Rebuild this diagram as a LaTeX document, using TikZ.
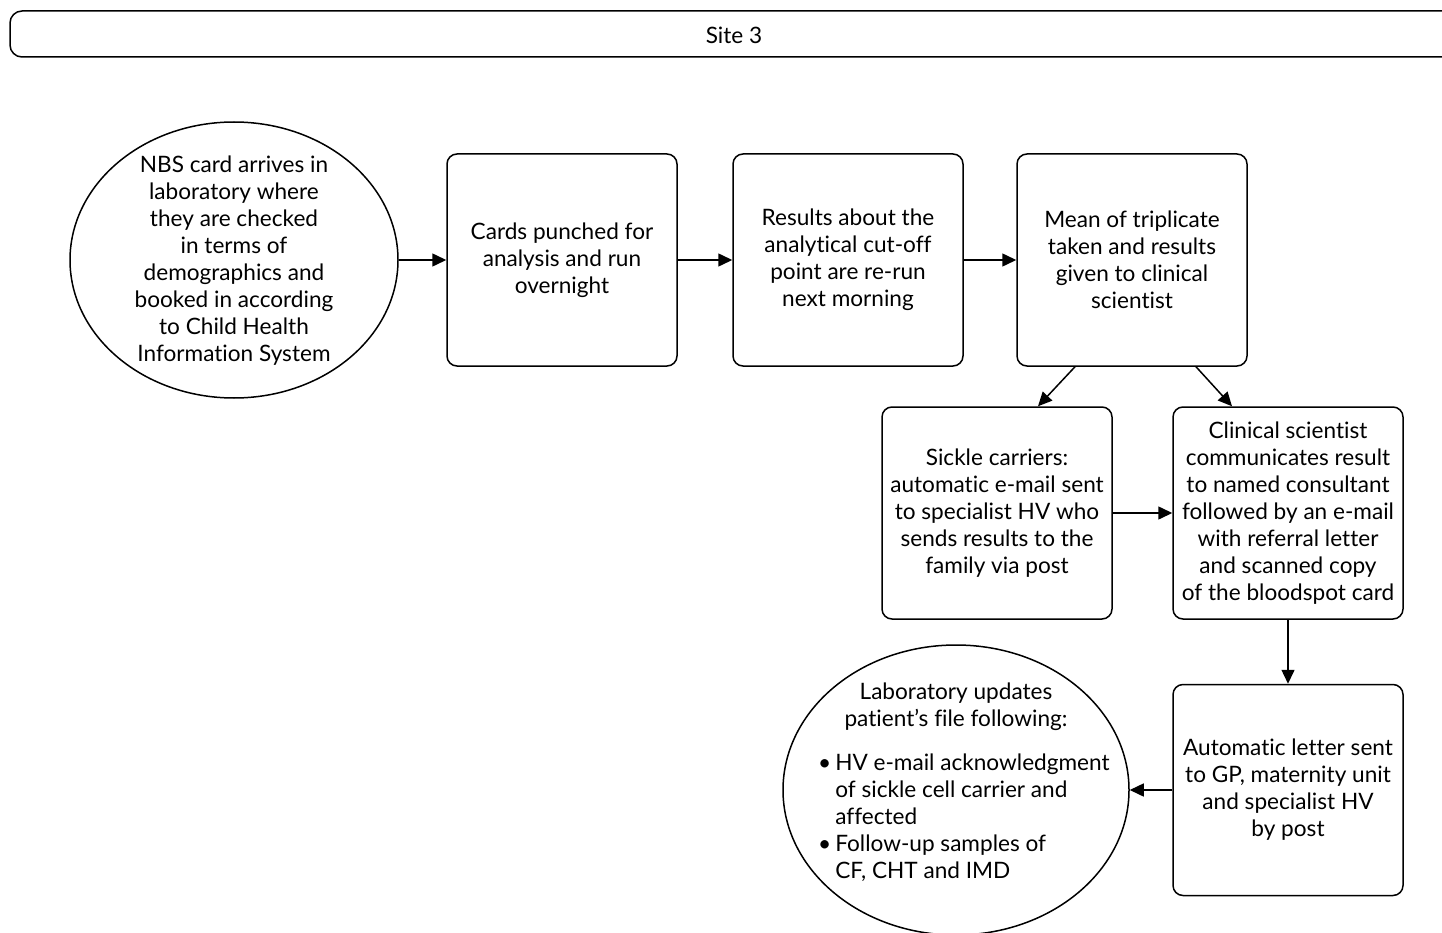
\documentclass[tikz,border=0pt]{standalone}
\usepackage{fontspec}
\setmainfont[Ligatures=NoCommon]{Lato}
\usetikzlibrary{shapes.geometric,arrows.meta}
\begin{document}
\begin{tikzpicture}[x=1pt,y=-1pt,
  every node/.style={font=\fontsize{22.6}{27}\selectfont},
  stepbox/.style={draw,line width=1.5pt,rounded corners=10pt,minimum width=230pt,minimum height=212pt,align=center,inner sep=0pt},
  oval/.style={draw,ellipse,line width=1.5pt,inner sep=0pt},
  flow/.style={line width=1.5pt,-{Triangle[length=14pt,width=13pt]}}
]
\useasboundingbox (0,0) rectangle (1442,933);

% site banner
\draw[line width=1.5pt,rounded corners=12pt] (10,11) rectangle (1480,57);
\node (site) at (734,35) {Site 3};

% first oval
\node[oval,minimum width=328pt,minimum height=276pt] (e1) at (234,260) {};
\node[align=center] (t1) at (234,261) {NBS card arrives in\\laboratory where\\they are checked\\in terms of\\demographics and\\booked in according\\to Child Health\\Information System};

% process boxes
\node[stepbox] (b2) at (562,260) {Cards punched for\\analysis and run\\overnight};
\node[stepbox] (b3) at (848,260) {Results about the\\analytical cut-off\\point are re-run\\next morning};
\node[stepbox] (b4) at (1132,260) {Mean of triplicate\\taken and results\\given to clinical\\scientist};
\node[stepbox] (b5) at (997,513) {Sickle carriers:\\automatic e-mail sent\\to specialist HV who\\sends results to the\\family via post};
\node[stepbox] (b6) at (1288,513) {Clinical scientist\\communicates result\\to named consultant\\followed by an e-mail\\with referral letter\\and scanned copy\\of the bloodspot card};
\node[stepbox,minimum height=211pt] (b7) at (1288,790) {Automatic letter sent\\to GP, maternity unit\\and specialist HV\\by post};

% final oval
\node[oval,minimum width=346pt,minimum height=290pt] (e2) at (956,790) {};
\node[align=center,inner sep=0pt] (t2h) at (956,707) {Laboratory updates\\patient’s file following:};
\node[anchor=west,inner sep=0pt] (t2l) at (818,819) {\begin{tabular}{@{}l@{\hspace{4pt}}l@{}}
\textbullet & HV e-mail acknowledgment\\
 & of sickle cell carrier and\\
 & affected\\
\textbullet & Follow-up samples of\\
 & CF, CHT and IMD
\end{tabular}};

% connectors
\draw[flow] (e1.east) -- (b2.west);
\draw[flow] (b2.east) -- (b3.west);
\draw[flow] (b3.east) -- (b4.west);
\draw[flow] (b4.south -| 1075,0) -- (b5.north -| 1038,0);
\draw[flow] (b4.south -| 1196,0) -- (b6.north -| 1232,0);
\draw[flow] (b5.east) -- (b6.west);
\draw[flow] (b6.south) -- (b7.north);
\draw[flow] (b7.west) -- (e2.east);
\end{tikzpicture}
\end{document}
